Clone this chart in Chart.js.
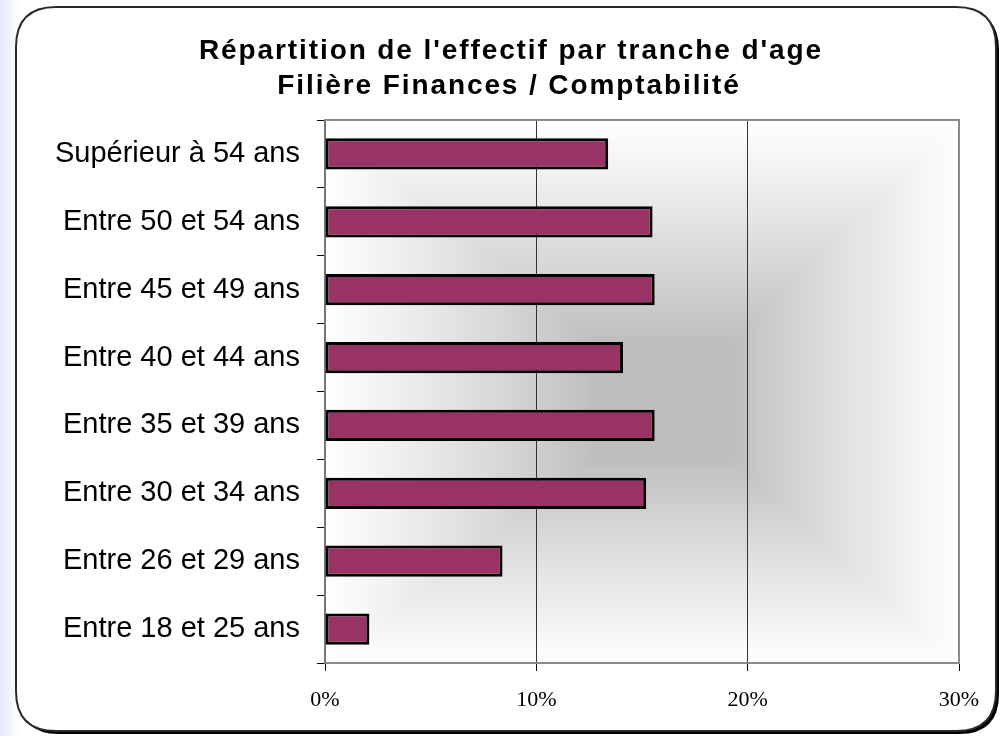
<!DOCTYPE html>
<html lang="fr">
<head>
<meta charset="utf-8">
<title>Répartition de l'effectif par tranche d'age</title>
<script src="https://cdn.jsdelivr.net/npm/chart.js@4.4.1/dist/chart.umd.min.js"></script>
<style>
  html, body { margin: 0; padding: 0; background: #fff; }
  #wrap { position: relative; width: 1001px; height: 736px; }
</style>
</head>
<body>
<div id="wrap"><canvas id="ageChart" width="1001" height="736"></canvas></div>
<script>
// chart data (bottom to top, as in the source sheet)
const titleLines = ["Répartition de l'effectif par tranche d'age", "Filière Finances / Comptabilité"];
const ageGroups = ['Entre 18 et 25 ans', 'Entre 26 et 29 ans', 'Entre 30 et 34 ans', 'Entre 35 et 39 ans',
                   'Entre 40 et 44 ans', 'Entre 45 et 49 ans', 'Entre 50 et 54 ans', 'Supérieur à 54 ans'];
const shareValues = [2.1, 8.4, 15.2, 15.6, 14.1, 15.6, 15.5, 13.4];
const xTickLabels = ['0%', '10%', '20%', '30%'];

function roundedPath(ctx, x, y, w, h, r) {
    ctx.beginPath();
    ctx.moveTo(x + r, y);
    ctx.lineTo(x + w - r, y);
    ctx.quadraticCurveTo(x + w, y, x + w, y + r);
    ctx.lineTo(x + w, y + h - r);
    ctx.quadraticCurveTo(x + w, y + h, x + w - r, y + h);
    ctx.lineTo(x + r, y + h);
    ctx.quadraticCurveTo(x, y + h, x, y + h - r);
    ctx.lineTo(x, y + r);
    ctx.quadraticCurveTo(x, y, x + r, y);
    ctx.closePath();
}

// rectangle "from centre" fill of the plot area, pixel by pixel
function centreGradient(ctx, a) {
    const x0 = Math.round(a.left), y0 = Math.round(a.top);
    const w = Math.round(a.right) - x0, h = Math.round(a.bottom) - y0;
    const cx = w * 0.54, cy = h * 0.52;
    const img = ctx.createImageData(w, h);
    for (let j = 0; j < h; j++) {
        const ny = j < cy ? (cy - j) / cy : (j - cy) / (h - cy);
        for (let i = 0; i < w; i++) {
            const nx = i < cx ? (cx - i) / cx : (i - cx) / (w - cx);
            const t = Math.min(1, Math.max(nx, ny));
            const s = Math.pow(Math.max(0, (t - 0.22) / 0.78), 0.9);
            const g = Math.round(190 + 65 * s);
            const k = (j * w + i) * 4;
            img.data[k] = g;
            img.data[k + 1] = g;
            img.data[k + 2] = g;
            img.data[k + 3] = 255;
        }
    }
    ctx.putImageData(img, x0, y0);
}

const framePlugin = {
    id: 'frame',
    beforeDraw(chart) {
        const ctx = chart.ctx;
        ctx.save();
        ctx.fillStyle = '#fff';
        ctx.fillRect(0, 0, chart.width, chart.height);
        // faint slide background on the left
        const glow = ctx.createLinearGradient(0, 0, 20, 0);
        glow.addColorStop(0, 'rgba(210,222,238,0.6)');
        glow.addColorStop(1, 'rgba(210,222,238,0)');
        ctx.fillStyle = glow;
        ctx.fillRect(0, 0, 20, chart.height);
        // shadow then frame
        roundedPath(ctx, 19, 10, 980, 724, 40);
        ctx.fillStyle = '#000';
        ctx.fill();
        roundedPath(ctx, 16, 7, 980, 724, 40);
        ctx.fillStyle = '#fff';
        ctx.fill();
        ctx.lineWidth = 2;
        ctx.strokeStyle = '#2a2a2a';
        ctx.stroke();
        ctx.restore();
        centreGradient(ctx, chart.chartArea);
    },
    afterDraw(chart) {
        const ctx = chart.ctx;
        const a = chart.chartArea;
        ctx.save();
        // plot area border (top and right)
        ctx.strokeStyle = '#8a8a8a';
        ctx.lineWidth = 2;
        ctx.beginPath();
        ctx.moveTo(a.left, a.top);
        ctx.lineTo(a.right, a.top);
        ctx.lineTo(a.right, a.bottom);
        ctx.stroke();
        // title
        ctx.font = 'bold 28px "Liberation Sans", Arial, sans-serif';
        ctx.fillStyle = '#000';
        ctx.textAlign = 'center';
        ctx.textBaseline = 'alphabetic';
        if ('letterSpacing' in ctx) ctx.letterSpacing = '1.9px';
        ctx.fillText(titleLines[0], 511, 59);
        ctx.fillText(titleLines[1], 509, 94);
        ctx.restore();
    }
};

const ctx = document.getElementById('ageChart').getContext('2d');
const ageChart = new Chart(ctx, {
    type: 'bar',
    data: {
        labels: ageGroups,
        datasets: [{
            label: 'Effectif',
            data: shareValues,
            backgroundColor: '#993366',
            borderColor: '#000',
            borderWidth: 3,
            borderSkipped: false,
            barPercentage: 0.46,
            categoryPercentage: 1
        }]
    },
    options: {
        indexAxis: 'y',
        responsive: false,
        animation: false,
        devicePixelRatio: 1,
        layout: {
            padding: { top: 120, right: 42, bottom: 0, left: 0 }
        },
        plugins: {
            legend: { display: false },
            title: { display: false },
            tooltip: { enabled: false }
        },
        scales: {
            x: {
                min: 0,
                max: 30,
                ticks: {
                    stepSize: 10,
                    maxRotation: 0,
                    padding: 16,
                    color: '#000',
                    font: { family: '"Liberation Serif", "Times New Roman", serif', size: 22 },
                    callback: (v) => xTickLabels[Math.round(v / 10)]
                },
                grid: {
                    color: (c) => c.index === 0 ? 'rgba(0,0,0,0)' : (c.index === 3 ? '#8a8a8a' : '#333'),
                    lineWidth: 1,
                    tickLength: 8,
                    tickColor: '#000'
                },
                border: { color: '#8a8a8a', width: 2 },
                afterFit(scale) { scale.height = 73; }
            },
            y: {
                reverse: true,
                ticks: {
                    padding: 17,
                    color: '#000',
                    font: { family: '"Liberation Sans", Arial, sans-serif', size: 29 }
                },
                grid: {
                    drawOnChartArea: false,
                    tickLength: 8,
                    tickColor: '#000'
                },
                border: { color: '#777', width: 2 },
                afterFit(scale) { scale.width = 325; }
            }
        }
    },
    plugins: [framePlugin]
});
</script>
</body>
</html>
